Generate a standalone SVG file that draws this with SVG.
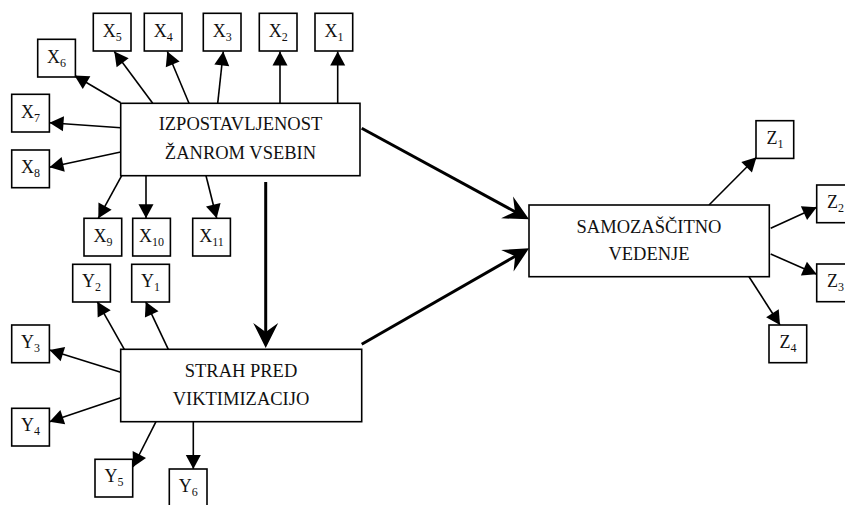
<svg xmlns="http://www.w3.org/2000/svg" width="845" height="505" viewBox="0 0 845 505">
<style>
.box{fill:#fff;stroke:#000;stroke-width:1.6}
.big{font-family:"Liberation Serif","Times New Roman",serif;font-size:18.5px;fill:#111;text-anchor:middle}
.lbl{font-family:"Liberation Serif","Times New Roman",serif;font-size:18px;fill:#111;text-anchor:middle}
.sub{font-size:12px}
.thin{stroke:#000;stroke-width:1.6;fill:none;marker-end:url(#ah)}
.thick{stroke:#000;stroke-width:3;fill:none;marker-end:url(#ahb)}
</style>
<defs>
<marker id="ah" markerUnits="userSpaceOnUse" markerWidth="15" markerHeight="15" refX="14" refY="7.5" orient="auto" overflow="visible">
<path d="M0,0 L14,7.5 L0,15 z" fill="#000"/>
</marker>
<marker id="ahb" markerUnits="userSpaceOnUse" markerWidth="26" markerHeight="26" refX="17" refY="12.5" orient="auto" overflow="visible">
<path d="M0,0 L25,12.5 L0,25 L9,12.5 z" fill="#000"/>
</marker>
</defs>
<g id="connectors">
<line class="thin" x1="152.7" y1="103.3" x2="114.3" y2="51.5"/>
<line class="thin" x1="189" y1="103.3" x2="167.3" y2="51.5"/>
<line class="thin" x1="217.7" y1="103.3" x2="223.3" y2="51.5"/>
<line class="thin" x1="280" y1="103.3" x2="280" y2="51.5"/>
<line class="thin" x1="337.7" y1="103.3" x2="337.7" y2="51.5"/>
<line class="thin" x1="120.7" y1="102.7" x2="74.5" y2="75.5"/>
<line class="thin" x1="120.7" y1="127.7" x2="49.5" y2="122.7"/>
<line class="thin" x1="120.7" y1="152" x2="49.5" y2="167.3"/>
<line class="thin" x1="121.7" y1="175.7" x2="98.3" y2="218.3"/>
<line class="thin" x1="146" y1="175.7" x2="146" y2="218.3"/>
<line class="thin" x1="206" y1="175.7" x2="216.7" y2="218.3"/>
<line class="thin" x1="124.3" y1="349.3" x2="97.3" y2="301.7"/>
<line class="thin" x1="168.3" y1="349.3" x2="145.7" y2="301.7"/>
<line class="thin" x1="120.7" y1="372.3" x2="49.5" y2="350"/>
<line class="thin" x1="120.7" y1="397.7" x2="49.5" y2="421.7"/>
<line class="thin" x1="156" y1="421.7" x2="133" y2="467"/>
<line class="thin" x1="193.3" y1="421.7" x2="193.3" y2="469"/>
<line class="thin" x1="709" y1="205" x2="756.5" y2="157.3"/>
<line class="thin" x1="770.7" y1="228.3" x2="816.7" y2="207.3"/>
<line class="thin" x1="770.7" y1="254" x2="816.7" y2="274.3"/>
<line class="thin" x1="749" y1="276.7" x2="780" y2="325"/>
<line class="thick" x1="265.7" y1="182" x2="265.7" y2="340"/>
<line class="thick" x1="361.7" y1="128.3" x2="522" y2="215.5"/>
<line class="thick" x1="361.7" y1="344.3" x2="522.1" y2="252.3"/>
</g>
<g id="izpostavljenost">
<rect class="box" x="120.7" y="103.3" width="239.3" height="72.4"/>
<text class="big" x="240.5" y="130.3">IZPOSTAVLJENOST</text>
<text class="big" x="240.5" y="158.5">ŽANROM VSEBIN</text>
</g>
<g id="strah">
<rect class="box" x="120.7" y="349.3" width="241" height="72.4"/>
<text class="big" x="241" y="376.7">STRAH PRED</text>
<text class="big" x="241" y="404.5">VIKTIMIZACIJO</text>
</g>
<g id="samozascitno">
<rect class="box" x="529" y="205" width="240.3" height="71.7"/>
<text class="big" x="649" y="232.5">SAMOZAŠČITNO</text>
<text class="big" x="649" y="260">VEDENJE</text>
</g>
<g id="X5"><rect class="box" x="93.3" y="13.3" width="37.7" height="37.7"/><text class="lbl" x="112.2" y="36.7">X<tspan class="sub" dy="4">5</tspan></text></g>
<g id="X4"><rect class="box" x="144.3" y="13.3" width="37.7" height="37.7"/><text class="lbl" x="163.2" y="36.7">X<tspan class="sub" dy="4">4</tspan></text></g>
<g id="X3"><rect class="box" x="203.3" y="13.3" width="37.7" height="37.7"/><text class="lbl" x="222.2" y="36.7">X<tspan class="sub" dy="4">3</tspan></text></g>
<g id="X2"><rect class="box" x="259.3" y="13.3" width="37.7" height="37.7"/><text class="lbl" x="278.2" y="36.7">X<tspan class="sub" dy="4">2</tspan></text></g>
<g id="X1"><rect class="box" x="315" y="13.3" width="37.7" height="37.7"/><text class="lbl" x="333.9" y="36.7">X<tspan class="sub" dy="4">1</tspan></text></g>
<g id="X6"><rect class="box" x="37.7" y="39.3" width="37.7" height="37.7"/><text class="lbl" x="56.6" y="62.7">X<tspan class="sub" dy="4">6</tspan></text></g>
<g id="X7"><rect class="box" x="11.7" y="94.3" width="37.7" height="37.7"/><text class="lbl" x="30.6" y="117.7">X<tspan class="sub" dy="4">7</tspan></text></g>
<g id="X8"><rect class="box" x="11.7" y="150" width="37.7" height="37.7"/><text class="lbl" x="30.6" y="173.4">X<tspan class="sub" dy="4">8</tspan></text></g>
<g id="X9"><rect class="box" x="84" y="218.3" width="37.7" height="37.7"/><text class="lbl" x="102.9" y="241.7">X<tspan class="sub" dy="4">9</tspan></text></g>
<g id="X10"><rect class="box" x="132.7" y="218.3" width="37.7" height="37.7"/><text class="lbl" x="151.6" y="241.7">X<tspan class="sub" dy="4">10</tspan></text></g>
<g id="X11"><rect class="box" x="192.7" y="218.3" width="37.7" height="37.7"/><text class="lbl" x="211.6" y="241.7">X<tspan class="sub" dy="4">11</tspan></text></g>
<g id="Y2"><rect class="box" x="72.7" y="264.3" width="37.7" height="37.7"/><text class="lbl" x="91.6" y="287.2">Y<tspan class="sub" dy="4">2</tspan></text></g>
<g id="Y1"><rect class="box" x="131.7" y="264.3" width="37.7" height="37.7"/><text class="lbl" x="150.6" y="287.2">Y<tspan class="sub" dy="4">1</tspan></text></g>
<g id="Y3"><rect class="box" x="11.7" y="325" width="37.7" height="37.7"/><text class="lbl" x="30.6" y="347.9">Y<tspan class="sub" dy="4">3</tspan></text></g>
<g id="Y4"><rect class="box" x="11.7" y="408.3" width="37.7" height="37.7"/><text class="lbl" x="30.6" y="431.2">Y<tspan class="sub" dy="4">4</tspan></text></g>
<g id="Y5"><rect class="box" x="95" y="459.3" width="37.7" height="37.7"/><text class="lbl" x="113.9" y="482.2">Y<tspan class="sub" dy="4">5</tspan></text></g>
<g id="Y6"><rect class="box" x="169.3" y="469" width="37.7" height="37.7"/><text class="lbl" x="188.2" y="491.9">Y<tspan class="sub" dy="4">6</tspan></text></g>
<g id="Z1"><rect class="box" x="756" y="120.7" width="37.7" height="37.7"/><text class="lbl" x="774.9" y="143.6">Z<tspan class="sub" dy="4">1</tspan></text></g>
<g id="Z2"><rect class="box" x="816.7" y="185" width="37.7" height="37.7"/><text class="lbl" x="835.6" y="207.9">Z<tspan class="sub" dy="4">2</tspan></text></g>
<g id="Z3"><rect class="box" x="816.7" y="264" width="37.7" height="37.7"/><text class="lbl" x="835.6" y="286.9">Z<tspan class="sub" dy="4">3</tspan></text></g>
<g id="Z4"><rect class="box" x="769" y="325" width="37.7" height="37.7"/><text class="lbl" x="787.9" y="347.9">Z<tspan class="sub" dy="4">4</tspan></text></g>
</svg>
